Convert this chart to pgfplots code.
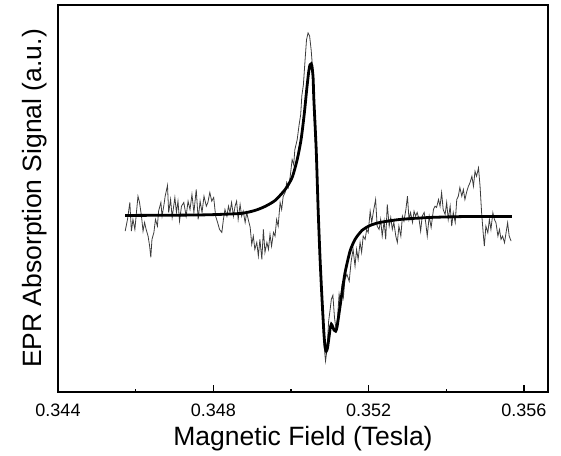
\documentclass[border=0pt]{standalone}
\usepackage{fontspec}
\setmainfont{Liberation Sans}
\usepackage{pgfplots}
\pgfplotsset{compat=1.18}
\definecolor{rawgray}{HTML}{3C3C3C}

\pgfplotstableread{
x y
0.34573 -15.7
0.34579 -4
0.34585 13
0.34589 -15.7
0.34593 -4
0.34598 -14
0.34602 3
0.34606 19.3
0.34610 13
0.34615 -0.7
0.34619 -15.7
0.34623 -7
0.34627 -14
0.34632 -20.7
0.34636 -30.7
0.34639 -42
0.34642 -24
0.34647 -17
0.34651 -4
0.34656 -10.7
0.34659 4.3
0.34665 13
0.34668 -0.7
0.34673 11
0.34676 19.3
0.34682 30
0.34685 3
0.34690 16
0.34694 -2
0.34701 18
0.34705 3
0.34709 14.3
0.34713 -5.7
0.34718 9.3
0.34724 13
0.34730 -0.7
0.34735 14.3
0.34740 6
0.34745 21
0.34750 3
0.34756 26
0.34761 -4
0.34766 14.3
0.34771 3
0.34776 19.3
0.34782 9.3
0.34786 13
0.34791 23
0.34796 14.3
0.34801 18
0.34806 -0.7
0.34811 -7
0.34816 -14
0.34822 -17
0.34826 -4
0.34830 6
0.34835 -0.7
0.34839 9.3
0.34843 3
0.34847 13
0.34852 -0.7
0.34856 9.3
0.34860 14.3
0.34864 -4
0.34869 11
0.34873 -0.7
0.34877 4.3
0.34882 -7
0.34886 3
0.34890 -4
0.34895 -12
0.34899 -29
0.34903 -20.7
0.34907 -34
0.34912 -27
0.34916 -40.7
0.34920 -24
0.34925 -44
0.34929 -14
0.34933 -37
0.34938 -27
0.34942 -34
0.34946 -19
0.34950 -30.7
0.34955 -17
0.34959 -20.7
0.34963 -4
0.34967 -10.7
0.34972 13
0.34976 6
0.34980 19.3
0.34985 23
0.34989 33
0.34993 28
0.34998 39
0.35003 56
0.35007 51
0.35010 66
0.35016 76
0.35021 91
0.35025 101
0.35028 120
0.35032 131
0.35036 154
0.35040 176
0.35044 183
0.35048 180
0.35052 166
0.35056 146
0.35059 106
0.35062 76
0.35065 66
0.35070 11
0.35075 -42
0.35080 -89
0.35085 -129
0.35089 -146
0.35093 -134
0.35097 -106
0.35101 -94
0.35104 -84
0.35108 -80
0.35112 -102
0.35116 -114
0.35120 -102
0.35124 -79
0.35128 -89
0.35131 -72
0.35135 -82
0.35139 -64
0.35144 -59
0.35150 -66
0.35155 -46
0.35160 -34
0.35165 -50.7
0.35169 -34
0.35173 -44
0.35178 -27
0.35182 -37
0.35186 -20.7
0.35191 -24
0.35195 -14
0.35199 -17
0.35204 4.3
0.35208 -7
0.35212 3
0.35218 16
0.35222 -10.7
0.35227 -14
0.35231 -4
0.35235 -20.7
0.35240 -5.7
0.35244 -24
0.35248 11
0.35253 -10.7
0.35257 -2
0.35261 -14
0.35265 -7
0.35270 -20.7
0.35274 -27
0.35278 -10.7
0.35283 -20.7
0.35287 -0.7
0.35291 -5.7
0.35296 6
0.35300 19.3
0.35304 -4
0.35308 3
0.35313 -7
0.35317 4.3
0.35321 -0.7
0.35325 3
0.35330 -4
0.35334 -15.7
0.35338 -0.7
0.35343 3
0.35347 -7
0.35351 -20.7
0.35356 -0.7
0.35361 -12
0.35367 6
0.35371 9.3
0.35375 8
0.35380 16
0.35384 9.3
0.35388 23
0.35392 6
0.35397 1
0.35401 13
0.35405 -4
0.35410 9.3
0.35414 -10.7
0.35418 3
0.35423 -7
0.35427 16
0.35431 19.3
0.35435 28
0.35440 19.3
0.35444 26
0.35448 16
0.35453 24.3
0.35457 29.3
0.35461 32.7
0.35466 39.3
0.35470 29.3
0.35474 44.3
0.35478 39.3
0.35483 47.7
0.35487 29.3
0.35491 2.7
0.35495 -17.3
0.35498 -30.7
0.35502 -10.7
0.35507 -17.3
0.35511 -4
0.35515 -14
0.35520 2.7
0.35524 -4
0.35528 -7.3
0.35533 -20.7
0.35537 -14
0.35541 -24
0.35545 -20.7
0.35550 -27.3
0.35554 -17.3
0.35558 -7.3
0.35562 -20.7
0.35567 -25.7
}\rawdata

\pgfplotstableread{
x y
0.34573 0
0.34766 0.5
0.34869 2
0.34907 5
0.34933 9
0.34959 15
0.34985 26
0.35003 38
0.35016 56
0.35026 76
0.35034 101
0.35041 128
0.35046 145
0.35049 151
0.35052 152
0.35054 150
0.35057 138
0.35059 116
0.35065 66
0.35070 6
0.35075 -44
0.35080 -84
0.35085 -119
0.35088 -132
0.35091 -136
0.35094 -133
0.35098 -122
0.35101 -113
0.35104 -109
0.35107 -111
0.35111 -115
0.35115 -116
0.35118 -113
0.35121 -106
0.35129 -84
0.35139 -58
0.35152 -36
0.35165 -24
0.35183 -15
0.35204 -10
0.35229 -7
0.35281 -4
0.35358 -2
0.35461 -1
0.35569 -1
}\fitdata

\begin{document}
\begin{tikzpicture}
\begin{axis}[name=ax, scale only axis, width=490pt, height=387pt,
  xmin=0.344, xmax=0.35662, ymin=-177, ymax=211,
  axis line style={line width=1.4pt},
  xtick={0.344,0.348,0.352,0.356},
  xticklabels={0.344,0.348,0.352,0.356},
  minor xtick={0.346,0.350,0.354},
  ytick=\empty, xtick pos=bottom, tick align=inside,
  major tick length=7pt, minor tick length=3.5pt,
  every tick/.style={line width=1.2pt,black},
  xticklabel style={font=\fontsize{18}{20}\selectfont, anchor=base, yshift=-24pt},
  xlabel={Magnetic Field (Tesla)},
  ylabel={EPR Absorption Signal (a.u.)},
  xlabel style={font=\fontsize{26.5}{30}\selectfont, at={(axis description cs:0.5,-0.137)}, anchor=base},
  ylabel style={font=\fontsize{26.5}{30}\selectfont, at={(axis description cs:-0.033,0.5)}, anchor=base, rotate=0},
  ]
\addplot[rawgray, line width=0.8pt] table[x=x,y=y] {\rawdata};
\addplot[black, line width=2.8pt, smooth, tension=0.4] table[x=x,y=y] {\fitdata};
\end{axis}
\path ([shift={(-58pt,-63pt)}]ax.south west) rectangle ([shift={(13pt,5pt)}]ax.north east);
\end{tikzpicture}
\end{document}
